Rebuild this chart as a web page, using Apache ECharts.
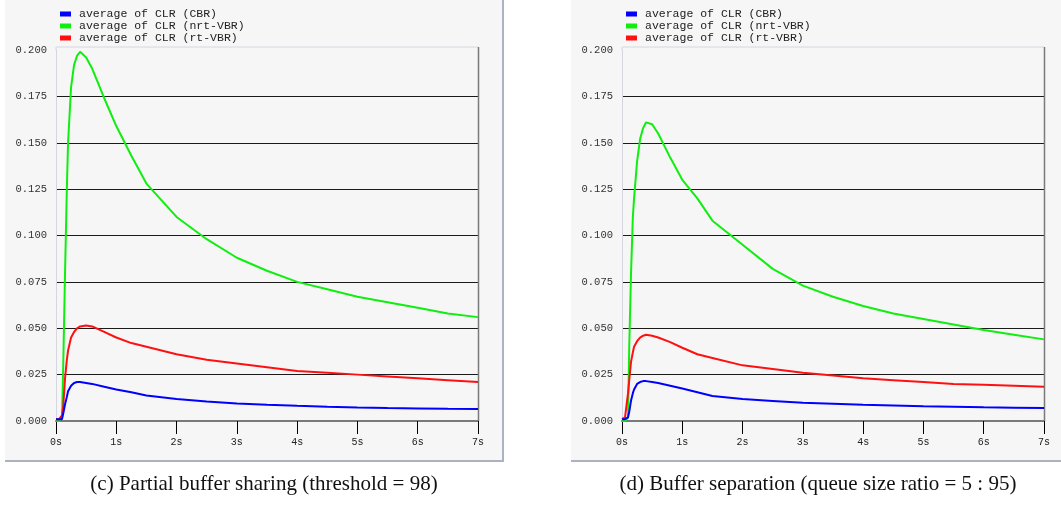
<!DOCTYPE html>
<html>
<head>
<meta charset="utf-8">
<script src="https://cdn.jsdelivr.net/npm/echarts@6/dist/echarts.min.js"></script>
<style>
html,body{margin:0;padding:0;background:#fff;}
#c{width:1061px;height:506px;}
</style>
</head>
<body>
<div id="c"></div>
<script>
// time samples (seconds)
const times = [0, 0.05, 0.1, 0.12, 0.15, 0.18, 0.2, 0.25, 0.3, 0.35, 0.4, 0.5, 0.6, 0.8, 1.0, 1.25, 1.5, 2, 2.5, 3, 3.5, 4, 4.5, 5, 5.5, 6, 6.5, 7];
const seriesNames = ['average of CLR (CBR)', 'average of CLR (nrt-VBR)', 'average of CLR (rt-VBR)'];
const xTicks = ['0s','1s','2s','3s','4s','5s','6s','7s'];
const captions = ['(c) Partial buffer sharing (threshold = 98)', '(d) Buffer separation (queue size ratio = 5 : 95)'];

// (c) Partial buffer sharing
const cbrC = [0.001, 0.001, 0.001, 0.004, 0.009, 0.013, 0.016, 0.019, 0.0205, 0.021, 0.021, 0.0205, 0.020, 0.0185, 0.017, 0.0155, 0.0138, 0.0118, 0.0105, 0.0095, 0.0088, 0.0082, 0.0077, 0.0073, 0.0070, 0.0068, 0.0066, 0.0065];
const nrtC = [0, 0, 0.002, 0.03, 0.08, 0.125, 0.15, 0.18, 0.192, 0.197, 0.199, 0.196, 0.19, 0.174, 0.159, 0.143, 0.128, 0.11, 0.098, 0.088, 0.081, 0.075, 0.071, 0.067, 0.064, 0.061, 0.058, 0.056];
const rtC  = [0.001, 0.001, 0.003, 0.008, 0.023, 0.033, 0.038, 0.045, 0.048, 0.050, 0.051, 0.0515, 0.051, 0.048, 0.045, 0.042, 0.040, 0.036, 0.033, 0.031, 0.029, 0.027, 0.026, 0.025, 0.024, 0.023, 0.022, 0.021];

// (d) Buffer separation
const cbrD = [0.001, 0.001, 0.002, 0.005, 0.011, 0.015, 0.017, 0.020, 0.021, 0.0215, 0.0215, 0.021, 0.0205, 0.019, 0.0175, 0.0155, 0.0135, 0.0118, 0.0108, 0.0098, 0.0093, 0.0088, 0.0084, 0.0080, 0.0077, 0.0074, 0.0072, 0.0070];
const nrtD = [0, 0, 0.002, 0.04, 0.08, 0.11, 0.12, 0.14, 0.152, 0.158, 0.161, 0.160, 0.155, 0.142, 0.13, 0.12, 0.108, 0.095, 0.082, 0.073, 0.067, 0.062, 0.058, 0.055, 0.052, 0.049, 0.0465, 0.044];
const rtD  = [0.001, 0.002, 0.015, 0.022, 0.032, 0.037, 0.040, 0.043, 0.045, 0.046, 0.0465, 0.046, 0.045, 0.0425, 0.0395, 0.036, 0.034, 0.030, 0.028, 0.026, 0.0245, 0.023, 0.022, 0.021, 0.020, 0.0195, 0.019, 0.0185];

const colors = ['#0000ff', '#10ee10', '#ff1010'];
const pair = (arr) => times.map((t, i) => [t, arr[i]]);

const mono = 'Liberation Mono, DejaVu Sans Mono, monospace';
const panels = [
  {dx: 0, data: [cbrC, nrtC, rtC], capX: 264},
  {dx: 566, data: [cbrD, nrtD, rtD], capX: 818}
];

const grids = [], xAxes = [], yAxes = [], series = [], legends = [], graphics = [];
panels.forEach((p, k) => {
  const gl = 56 + p.dx, gt = 50, gw = 422, gh = 371;
  grids.push({left: gl, top: gt, width: gw, height: gh, containLabel: false});
  xAxes.push({
    type: 'value', gridIndex: k, min: 0, max: 7, interval: 1,
    axisLine: {show: true, lineStyle: {color: '#7a7a7a', width: 2}},
    axisTick: {show: true, length: 13, lineStyle: {color: '#000', width: 1}},
    axisLabel: {color: '#222', fontFamily: mono, fontSize: 10, margin: 16,
      formatter: (v) => xTicks[Math.round(v)]},
    splitLine: {show: false}
  });
  yAxes.push({
    type: 'value', gridIndex: k, min: 0, max: 0.2, interval: 0.025,
    axisLine: {show: true, lineStyle: {color: '#d6d6de', width: 1}},
    axisTick: {show: false},
    axisLabel: {color: '#333', fontFamily: mono, fontSize: 10.5, margin: 9,
      formatter: (v) => v.toFixed(3)},
    splitLine: {show: true, showMinLine: false, showMaxLine: false, lineStyle: {color: '#1a1a1a', width: 1}}
  });
  p.data.forEach((arr, j) => {
    series.push({
      type: 'line', name: seriesNames[j], xAxisIndex: k, yAxisIndex: k,
      data: pair(arr), showSymbol: false, symbol: 'none',
      lineStyle: {color: colors[j], width: 2}, itemStyle: {color: colors[j]},
      z: 3 + (j === 0 ? 2 : j === 2 ? 1 : 0)
    });
  });
  legends.push({
    left: 60 + p.dx, top: 8, padding: 0, orient: 'vertical', itemWidth: 11, itemHeight: 5, itemGap: 0,
    icon: 'rect', data: seriesNames, selectedMode: false,
    textStyle: {fontFamily: mono, fontSize: 11.5, color: '#222', lineHeight: 12, padding: [0, 0, 0, 3]}
  });
  // panel background
  graphics.push({type: 'rect', z: -10, shape: {x: 5 + p.dx, y: 0, width: 498, height: 461}, style: {fill: '#f6f6f7'}, silent: true});
  graphics.push({type: 'rect', z: -9, shape: {x: 5 + p.dx, y: 460, width: 498, height: 2}, style: {fill: '#aab2c4'}, silent: true});
  graphics.push({type: 'rect', z: -9, shape: {x: 502 + p.dx, y: 0, width: 2, height: 462}, style: {fill: '#aab2c4'}, silent: true});
  // plot frame: top light, right dark
  graphics.push({type: 'line', z: 1, shape: {x1: gl, y1: gt - 3, x2: gl + gw, y2: gt - 3}, style: {stroke: '#d6d6de', lineWidth: 1}, silent: true});
  graphics.push({type: 'line', z: 1, shape: {x1: gl, y1: gt - 3, x2: gl, y2: gt}, style: {stroke: '#d6d6de', lineWidth: 1}, silent: true});
  graphics.push({type: 'line', z: 1, shape: {x1: gl + gw + 0.5, y1: gt - 3, x2: gl + gw + 0.5, y2: gt + gh}, style: {stroke: '#7a7a7a', lineWidth: 1.5}, silent: true});
  graphics.push({type: 'text', z: 5, style: {text: captions[k], x: p.capX, y: 484, align: 'center', verticalAlign: 'middle',
    font: '21px "Liberation Serif", "Times New Roman", serif', fill: '#111'}, silent: true});
});

const chart = echarts.init(document.getElementById('c'), null, {renderer: 'canvas'});
chart.setOption({
  animation: false,
  backgroundColor: '#ffffff',
  grid: grids, xAxis: xAxes, yAxis: yAxes, series: series, legend: legends,
  graphic: graphics
});
</script>
</body>
</html>
